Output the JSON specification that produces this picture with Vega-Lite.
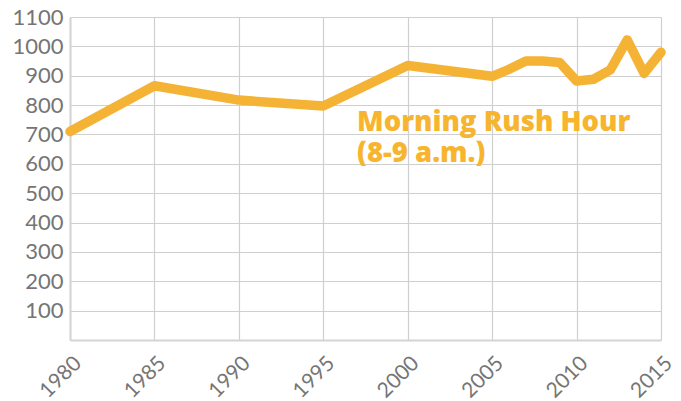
{
  "$schema": "https://vega.github.io/schema/vega-lite/v6.json",
  "width": 591,
  "height": 323,
  "autosize": "none",
  "padding": {"left": 70, "top": 17, "right": 20, "bottom": 61},
  "background": "white",
  "config": {
    "view": {"stroke": null},
    "axis": {
      "labelFont": "Lato",
      "labelFontSize": 22,
      "labelColor": "#757575",
      "gridColor": "#cfcfcf",
      "gridWidth": 1.2,
      "domainColor": "#d4d4d4",
      "domainWidth": 2,
      "ticks": false,
      "title": null
    }
  },
  "datasets": {
    "rush": [
      {"year": 1980, "value": 710},
      {"year": 1985, "value": 866},
      {"year": 1990, "value": 817},
      {"year": 1995, "value": 797},
      {"year": 2000, "value": 935},
      {"year": 2005, "value": 898},
      {"year": 2006, "value": 922},
      {"year": 2007, "value": 950},
      {"year": 2008, "value": 950},
      {"year": 2009, "value": 945},
      {"year": 2010, "value": 882},
      {"year": 2011, "value": 888},
      {"year": 2012, "value": 920},
      {"year": 2013, "value": 1022},
      {"year": 2014, "value": 908},
      {"year": 2015, "value": 980}
    ],
    "label": [
      {"year": 1997, "value": 712, "text": ["Morning Rush Hour", "(8-9 a.m.)"]}
    ]
  },
  "encoding": {
    "x": {
      "field": "year", "type": "quantitative",
      "scale": {"domain": [1980, 2015], "nice": false, "zero": false},
      "axis": {"values": [1980, 1985, 1990, 1995, 2000, 2005, 2010, 2015], "format": "d", "labelAngle": -45, "labelAlign": "right", "labelBaseline": "top", "labelPadding": 12, "labelFontSize": 21, "labelOverlap": false, "domain": true}
    },
    "y": {
      "field": "value", "type": "quantitative",
      "scale": {"domain": [0, 1100], "nice": false},
      "axis": {"values": [100, 200, 300, 400, 500, 600, 700, 800, 900, 1000, 1100], "format": "d", "labelPadding": 7, "labelOverlap": false}
    }
  },
  "layer": [
    {
      "data": {"name": "rush"},
      "mark": {"type": "line", "color": "#F5B335", "strokeWidth": 9.5, "strokeCap": "round", "strokeJoin": "round"}
    },
    {
      "data": {"name": "label"},
      "mark": {"type": "text", "color": "#F7B52F", "font": "Open Sans", "fontWeight": 800, "fontSize": 27.5, "align": "left", "baseline": "alphabetic", "lineHeight": 31},
      "encoding": {
        "text": {"field": "text"}
      }
    }
  ]
}
